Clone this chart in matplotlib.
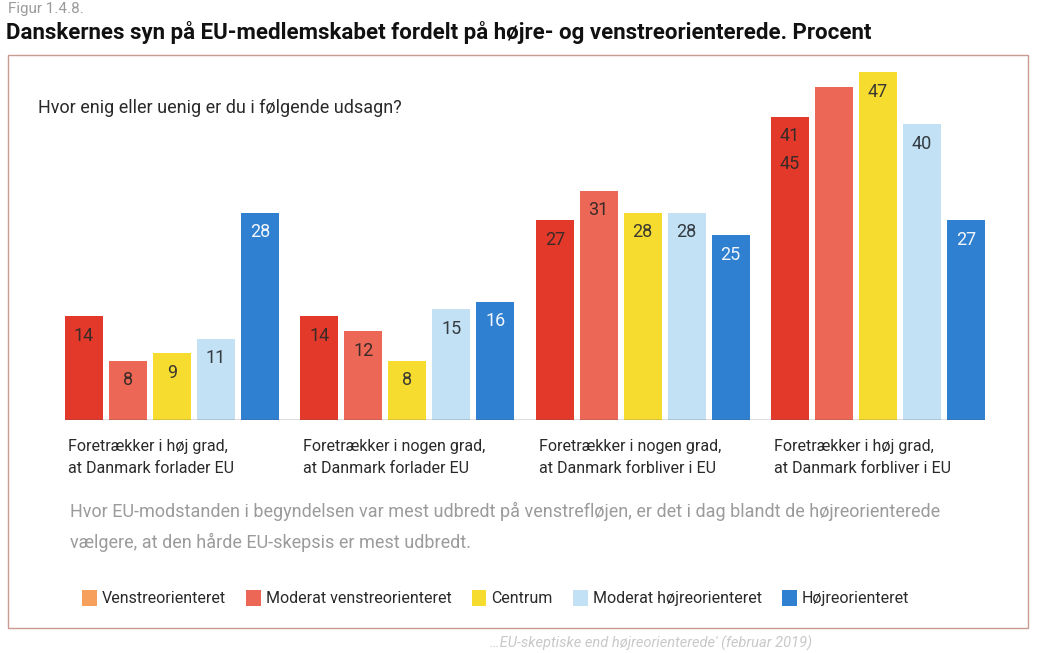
import numpy as np
import matplotlib
matplotlib.use("Agg")
import matplotlib.pyplot as plt
from matplotlib.patches import Patch, Rectangle

plt.rcParams['font.family'] = ['Roboto', 'DejaVu Sans']

# Data
grupper = ['Foretrækker i høj grad,\nat Danmark forlader EU',
           'Foretrækker i nogen grad,\nat Danmark forlader EU',
           'Foretrækker i nogen grad,\nat Danmark forbliver i EU',
           'Foretrækker i høj grad,\nat Danmark forbliver i EU']
serier = ['Venstreorienteret', 'Moderat venstreorienteret', 'Centrum',
          'Moderat højreorienteret', 'Højreorienteret']
venstre = [14, 14, 27, 41]
mod_venstre = [8, 12, 31, 45]
centrum = [9, 8, 28, 47]
mod_hojre = [11, 15, 28, 40]
hojre = [28, 16, 25, 27]
vaerdier = [venstre, mod_venstre, centrum, mod_hojre, hojre]

bar_farver = ['#e3392b', '#ec6756', '#f7dc30', '#c2e1f5', '#2f80d1']
legende_farver = ['#f6a05c', '#ec6756', '#f7dc30', '#c2e1f5', '#2f80d1']
tekst_farver = ['#3a2a28', '#3a2a28', '#3a3a30', '#333a40', '#f2f6fb']

W, H = 1040, 653
def px(x, y):
    # pixel (fra top-venstre) -> figurbrøk
    return x / W, 1 - y / H

fig = plt.figure(figsize=(W / 100, H / 100), dpi=100, facecolor='white')

# Ramme rundt om figuren
fig.patches.append(Rectangle(px(8, 628), (1028 - 8) / W, (628 - 55) / H,
                             transform=fig.transFigure, fill=False,
                             edgecolor='#c99a92', lw=1.0))

fig.text(*px(8, 9), 'Figur 1.4.8.', fontsize=11, color='#9a9a9a', va='center', ha='left')
fig.text(*px(6, 32), 'Danskernes syn på EU-medlemskabet fordelt på højre- og venstreorienterede. Procent',
         fontsize=16, fontweight='bold', color='#111111', va='center', ha='left')
fig.text(*px(38, 108), 'Hvor enig eller uenig er du i følgende udsagn?',
         fontsize=13, color='#2a2a2a', va='center', ha='left')

# Søjler
ax = fig.add_axes([65 / W, 1 - 420 / H, (985 - 65) / W, (420 - 65) / H])
afstand = 5.35
bredde = 0.86
x0 = np.arange(len(grupper)) * afstand
for s, (vals, farve) in enumerate(zip(vaerdier, bar_farver)):
    ax.bar(x0 + s, vals, width=bredde, color=farve, zorder=2)

# Værdietiketter (i originalen står '45' i første søjle under '41')
for s, vals in enumerate(vaerdier):
    for g, v in enumerate(vals):
        if g == 3 and s == 1:
            ax.annotate(str(v), xy=(x0[g], venstre[g]), xytext=(0, -34),
                        textcoords='offset points', ha='center', va='center',
                        fontsize=13, color=tekst_farver[0])
        else:
            ax.annotate(str(v), xy=(x0[g] + s, v), xytext=(0, -14),
                        textcoords='offset points', ha='center', va='center',
                        fontsize=13, color=tekst_farver[s])

for g, navn in enumerate(grupper):
    ax.annotate(navn, xy=(x0[g] - bredde / 2, 0), xytext=(2, -14),
                textcoords='offset points', ha='left', va='top',
                fontsize=11.5, color='#2a2a2a', linespacing=1.55)

ax.axhline(0, color='#555555', lw=1.0, zorder=3)
ax.set_xlim(x0[0] - bredde / 2, x0[-1] + 4 + bredde / 2)
ax.set_ylim(0, 48)
ax.axis('off')

fig.text(*px(70, 527),
         'Hvor EU-modstanden i begyndelsen var mest udbredt på venstrefløjen, er det i dag blandt de højreorienterede\n'
         'vælgere, at den hårde EU-skepsis er mest udbredt.',
         fontsize=13, color='#9b9b9b', va='center', ha='left', linespacing=1.75)

handles = [Patch(facecolor=c, edgecolor='none') for c in legende_farver]
fig.legend(handles, serier, loc='center left', bbox_to_anchor=px(68, 598),
           ncol=5, frameon=False, fontsize=11.5, handlelength=0.9, handleheight=1.2,
           handletextpad=0.3, columnspacing=1.3, labelcolor='#2a2a2a')

fig.text(*px(812, 643), '…EU-skeptiske end højreorienterede\' (februar 2019)',
         fontsize=10.5, color='#c8c8c8', style='italic', va='center', ha='right')

fig.savefig('out.png', dpi=100, facecolor='white')
